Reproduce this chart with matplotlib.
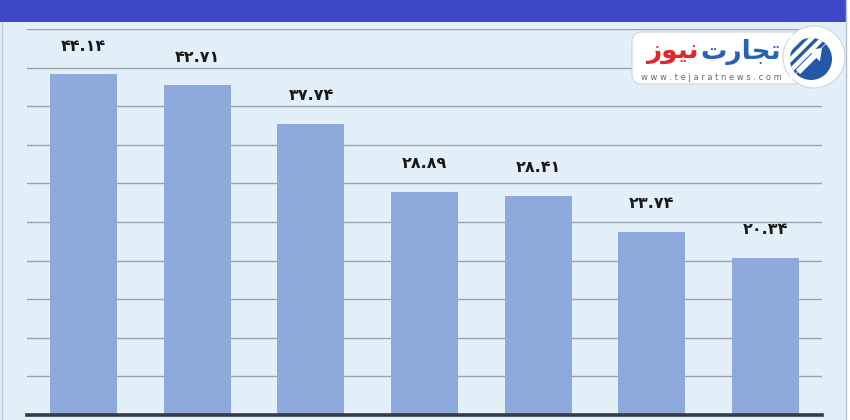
import matplotlib.pyplot as plt
from matplotlib.patches import Rectangle, FancyBboxPatch, Circle, FancyArrow, Wedge

# data
values = [44.14, 42.71, 37.74, 28.89, 28.41, 23.74, 20.34]
labels = ["۴۴.۱۴", "۴۲.۷۱", "۳۷.۷۴", "۲۸.۸۹", "۲۸.۴۱", "۲۳.۷۴", "۲۰.۳۴"]
y_ticks = [5, 10, 15, 20, 25, 30, 35, 40, 45, 50]

bg = "#e4f0f9"
bar_color = "#8eaadc"
plt.rcParams["hatch.linewidth"] = 2.4

fig = plt.figure(figsize=(8.5, 4.2), dpi=100, facecolor=bg)

# overlay in pixel coordinates for frame + logo
ov = fig.add_axes([0, 0, 1, 1], zorder=0)
ov.set_xlim(0, 850)
ov.set_ylim(420, 0)
ov.axis("off")
ov.add_patch(Rectangle((0, 0), 850, 22, color="#3e47c6", lw=0))
ov.plot([2, 2], [22, 420], color="#c3ccd4", lw=1)
ov.plot([846, 846], [0, 420], color="#b9c2ca", lw=1)
ov.add_patch(Rectangle((847, 0), 3, 420, color="white", lw=0))

ax = fig.add_axes([27 / 850, 5 / 420, 795 / 850, 386 / 420], zorder=1)
ax.patch.set_alpha(0)
x = list(range(len(values)))
ax.bar(x, values, width=0.59, color=bar_color, zorder=3)
for xi, v, lab in zip(x, values, labels):
    ax.annotate(lab, (xi, v), xytext=(0, 28), textcoords="offset pixels",
                ha="center", va="center", fontsize=11.5, fontweight="bold",
                family="DejaVu Sans", color="#1a1a1a", zorder=4)
ax.set_xlim(-0.5, 6.5)
ax.set_ylim(0, 50)
ax.set_yticks(y_ticks)
ax.yaxis.grid(True, color="#9aa3ab", lw=1.0, zorder=1)
ax.tick_params(left=False, bottom=False, labelleft=False, labelbottom=False)
for s in ["top", "right", "left"]:
    ax.spines[s].set_visible(False)
ax.spines["bottom"].set_color("#353a45")
ax.spines["bottom"].set_linewidth(2.6)
ax.spines["bottom"].set_zorder(5)

# logo
lg = fig.add_axes([0, 0, 1, 1], zorder=6)
lg.set_xlim(0, 850)
lg.set_ylim(420, 0)
lg.axis("off")
lg.add_patch(FancyBboxPatch((634, 34), 170, 48, boxstyle="round,pad=2,rounding_size=10",
                            fc="white", ec="#d0d6db", lw=0.8))
lg.add_patch(Circle((814, 57), 31, fc="white", ec="#d0d6db", lw=0.8))
lg.add_patch(Rectangle((790, 35), 20, 44, fc="white", lw=0))
lg.add_patch(Circle((811, 59), 21, fc="#2458a6", lw=0))
lg.add_patch(Wedge((811, 59), 21, 135, 315, fc="white", lw=0))
lg.add_patch(Wedge((811, 59), 21, 135, 315, fc="none", ec="#2458a6", hatch="///", lw=0))
lg.add_patch(FancyArrow(798, 72, 24, -24, width=6, head_width=16, head_length=11,
                        color="white", lw=0, length_includes_head=True, zorder=5))
# shaped Persian logo text (presentation forms, visual order)
lg.text(741, 52, "\ufe95\ufead\ufe8e\ufea0\ufe97", ha="center", va="center",
        fontsize=19, fontweight="bold", color="#2563b3", family="DejaVu Sans")
lg.text(672, 52, "\ufeaf\ufeee\ufef4\ufee7", ha="center", va="center",
        fontsize=19, fontweight="bold", color="#e3262d", family="DejaVu Sans")
lg.text(711, 77, "w w w . t e j a r a t n e w s . c o m", ha="center", va="center",
        fontsize=6, color="#6b6b6b", family="DejaVu Sans")

fig.savefig("out.png", dpi=100, facecolor=bg)
